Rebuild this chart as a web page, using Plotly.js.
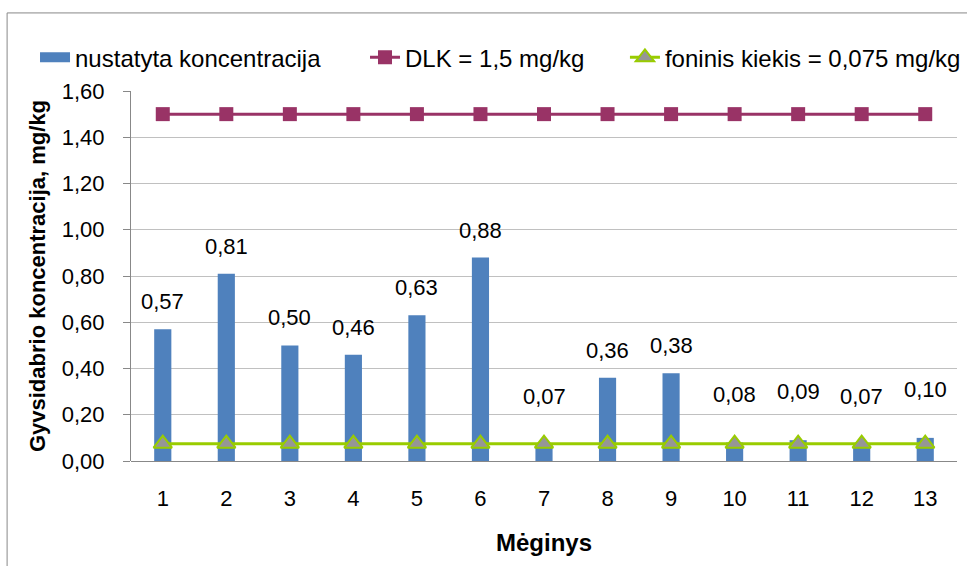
<!DOCTYPE html>
<html>
<head>
<meta charset="utf-8">
<script src="https://cdn.plot.ly/plotly-3.0.1.min.js"></script>
<style>
html,body{margin:0;padding:0;background:#fff;}
#chart{width:967px;height:566px;}
</style>
</head>
<body>
<div id="chart"></div>
<script>
const categories = ['1','2','3','4','5','6','7','8','9','10','11','12','13'];
const measured = [0.57, 0.81, 0.50, 0.46, 0.63, 0.88, 0.07, 0.36, 0.38, 0.08, 0.09, 0.07, 0.10];
const dlk = [1.5,1.5,1.5,1.5,1.5,1.5,1.5,1.5,1.5,1.5,1.5,1.5,1.5];
const background = [0.075,0.075,0.075,0.075,0.075,0.075,0.075,0.075,0.075,0.075,0.075,0.075,0.075];
const measuredLabels = ['0,57','0,81','0,50','0,46','0,63','0,88','0,07','0,36','0,38','0,08','0,09','0,07','0,10'];
const yTickVals = [0,0.2,0.4,0.6,0.8,1.0,1.2,1.4,1.6];
const yTickText = ['0,00','0,20','0,40','0,60','0,80','1,00','1,20','1,40','1,60'];
const seriesNames = ['nustatyta koncentracija', 'DLK = 1,5 mg/kg', 'foninis kiekis = 0,075 mg/kg'];

const font = 'Liberation Sans, Arial, sans-serif';
const BLUE = '#4F81BD', PURPLE = '#993366', GREEN = '#99CC00', GREY = '#969696';

const traces = [
  {type:'bar', name:seriesNames[0], x:categories, y:measured,
   marker:{color:BLUE}, width:0.27, showlegend:false},
  // legend swatch for the bars (wide rectangle like the original)
  {type:'scatter', mode:'lines', name:seriesNames[0], x:[categories[0]], y:[null],
   line:{color:BLUE, width:16}, legend:'legend', showlegend:true, hoverinfo:'skip'},
  {type:'scatter', mode:'lines+markers', name:seriesNames[1], x:categories, y:dlk,
   line:{color:PURPLE, width:3}, marker:{symbol:'square', size:14, color:PURPLE}, legend:'legend2'},
  {type:'scatter', mode:'lines+markers', name:seriesNames[2], x:categories, y:background,
   line:{color:GREEN, width:3}, marker:{symbol:'triangle-up', size:16, color:GREY, line:{color:GREEN, width:2}}, legend:'legend3'}
];

const annotations = categories.map((c,i)=>({
  x:i, y:measured[i], text:measuredLabels[i], showarrow:false,
  xref:'x', yref:'y',
  yanchor:'bottom', yshift: measured[i] < 0.2 ? 34 : 13,
  font:{family:font, size:22, color:'#000'}
}));

const legendBase = {orientation:'h', y:1.09, yanchor:'middle', xanchor:'left',
                    font:{family:font, size:24, color:'#000'}, bgcolor:'rgba(0,0,0,0)'};

const layout = {
  width:967, height:566,
  margin:{l:131, r:10, t:91, b:105, autoexpand:false},
  paper_bgcolor:'#fff', plot_bgcolor:'#fff',
  font:{family:font, size:22, color:'#000'},
  showlegend:true,
  legend:Object.assign({}, legendBase, {x:-0.1162}),
  legend2:Object.assign({}, legendBase, {x:0.2833}),
  legend3:Object.assign({}, legendBase, {x:0.598}),
  xaxis:{type:'category', range:[-0.5,12.5], showgrid:false, showline:false, zeroline:false, ticks:'',
         tickfont:{family:font, size:22}, ticklabelstandoff:22, automargin:false,
         title:{text:'<b>Mėginys</b>', font:{family:font, size:24}, standoff:24}},
  yaxis:{range:[0,1.6], tickvals:yTickVals, ticktext:yTickText, showgrid:true, gridcolor:'#C0C0C0', gridwidth:1,
         showline:true, linecolor:'#888', linewidth:1, ticks:'outside', ticklen:7, tickcolor:'#888',
         zeroline:true, zerolinecolor:'#888', zerolinewidth:1, automargin:false,
         tickfont:{family:font, size:22}, ticklabelstandoff:14,
         title:{text:'<b>Gyvsidabrio koncentracija, mg/kg</b>', font:{family:font, size:22}, standoff:10}},
  annotations:annotations,
  shapes:[{type:'path', xref:'paper', yref:'paper',
           path:'M -0.15 -0.3 L -0.15 1.211 L 1.1 1.211',
           line:{color:'#888', width:1}}]
};

Plotly.newPlot('chart', traces, layout, {staticPlot:true});
</script>
</body>
</html>
